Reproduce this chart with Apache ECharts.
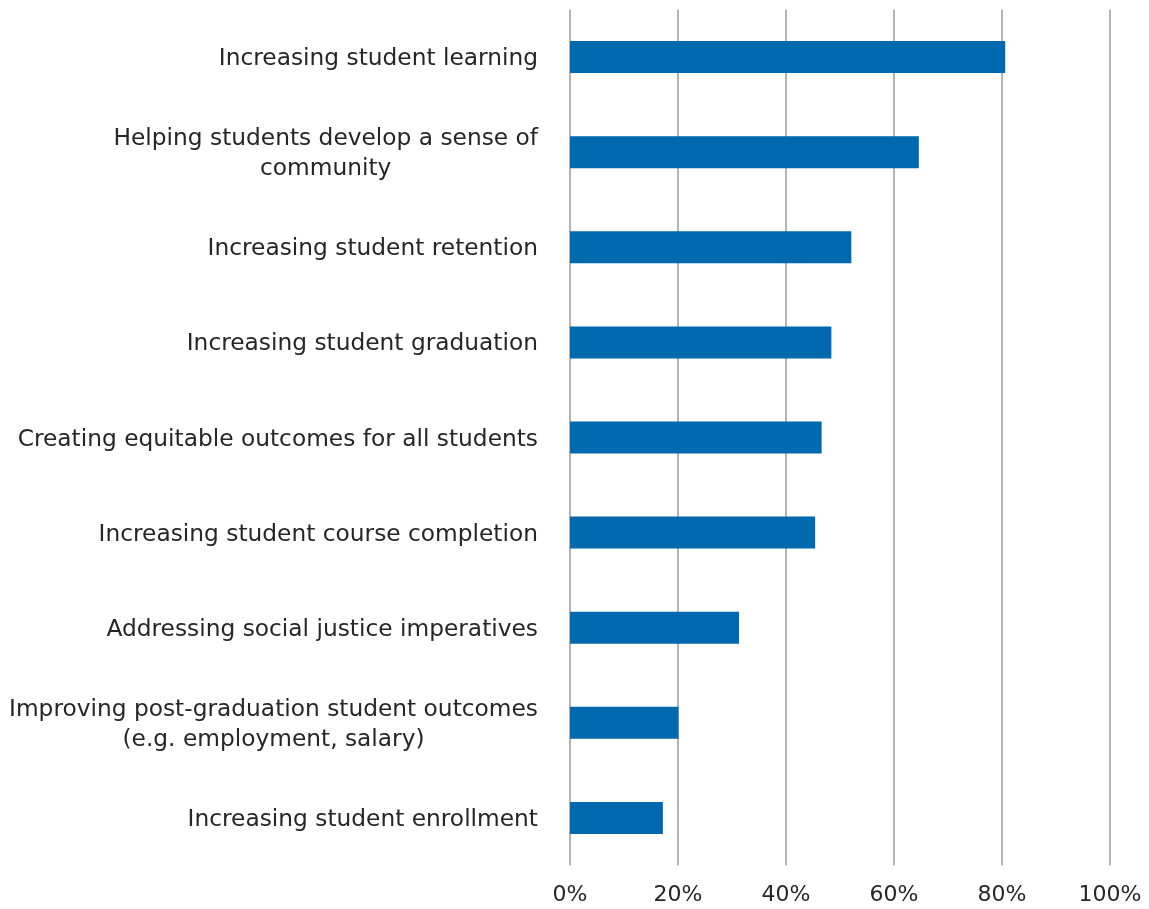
<!DOCTYPE html>
<html>
<head>
<meta charset="utf-8">
<script src="https://cdn.jsdelivr.net/npm/echarts@6/dist/echarts.min.js"></script>
<style>
html,body{margin:0;padding:0;background:#fff;}
#chart{width:1149px;height:909px;}
</style>
</head>
<body>
<div id="chart"></div>
<script>
var categories = [
  "Increasing student learning",
  "Helping students develop a sense of\ncommunity",
  "Increasing student retention",
  "Increasing student graduation",
  "Creating equitable outcomes for all students",
  "Increasing student course completion",
  "Addressing social justice imperatives",
  "Improving post-graduation student outcomes\n(e.g. employment, salary)",
  "Increasing student enrollment"
];
var values = [0.806, 0.646, 0.521, 0.484, 0.466, 0.454, 0.313, 0.201, 0.172];
var xTicks = [0, 0.2, 0.4, 0.6, 0.8, 1.0];

var chart = echarts.init(document.getElementById('chart'), null, {renderer: 'canvas'});
var font = '"DejaVu Sans", Verdana, sans-serif';
chart.setOption({
  animation: false,
  backgroundColor: '#ffffff',
  grid: {left: 570, right: 39, top: 9.5, bottom: 43.5, containLabel: false},
  xAxis: {
    type: 'value',
    min: xTicks[0],
    max: xTicks[xTicks.length - 1],
    interval: 0.2,
    axisLine: {show: false},
    axisTick: {show: false},
    splitLine: {show: true, lineStyle: {color: '#9a9a9a', width: 1.5}},
    axisLabel: {
      margin: 19,
      color: '#262626',
      fontFamily: font,
      fontSize: 22,
      formatter: function (v) { return Math.round(v * 100) + '%'; }
    }
  },
  yAxis: {
    type: 'category',
    inverse: true,
    data: categories,
    axisLine: {show: false},
    axisTick: {show: false},
    splitLine: {show: false},
    axisLabel: {
      margin: 32,
      align: 'right',
      color: '#262626',
      fontFamily: font,
      fontSize: 23.3,
      lineHeight: 30,
      padding: [4, 0, 0, 0],
      formatter: function (v) {
        return v.split('\n').map(function (s) { return '{c|' + s + '}'; }).join('\n');
      },
      rich: {
        c: {align: 'center', fontFamily: font, fontSize: 23.3, lineHeight: 30, color: '#262626'}
      }
    }
  },
  series: [{
    type: 'bar',
    data: values,
    barWidth: 32,
    itemStyle: {color: '#0068AC'}
  }]
});
</script>
</body>
</html>
